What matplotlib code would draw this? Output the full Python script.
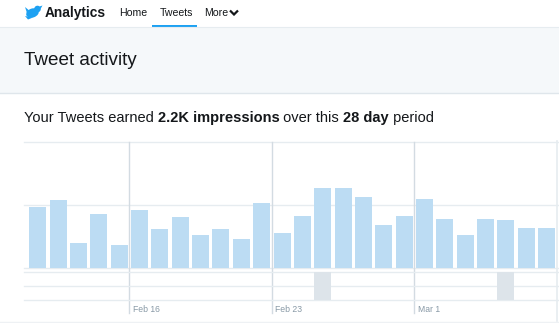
import matplotlib
matplotlib.use("Agg")
import matplotlib.pyplot as plt
import matplotlib.transforms as mtrans
from matplotlib.patches import Rectangle, Polygon, Ellipse, Circle

plt.rcParams['font.family'] = ['Liberation Sans', 'DejaVu Sans']

# impressions per day, Feb 11 .. Mar 8
days = list(range(26))
impressions = [97, 108, 39, 85, 36, 91, 61, 80, 52, 62, 45, 102, 55,
               82, 126, 127, 112, 67, 82, 109, 77, 52, 77, 76, 63, 63]
# tweets posted per day (only two days had a tweet)
tweets = [0] * 26
tweets[14] = 1
tweets[23] = 1
date_ticks = [4.5, 11.5, 18.5]
date_labels = ['Feb 16', 'Feb 23', 'Mar 1']

W, H = 559, 323


def rect(left, top, right, bottom):
    return [left / W, 1 - bottom / H, (right - left) / W, (bottom - top) / H]


fig = plt.figure(figsize=(W / 100, H / 100), dpi=100)

# page background / header, pixel coords
bg = fig.add_axes([0, 0, 1, 1])
bg.set_xlim(0, W)
bg.set_ylim(H, 0)
bg.axis('off')

bg.add_patch(Rectangle((0, 27.5), W, 65.5, color='#f5f8fa', lw=0))
bg.plot([0, W], [27.3, 27.3], color='#e6ecf0', lw=0.8)
bg.plot([0, W], [93, 93], color='#dfe6eb', lw=1.0)
bg.add_patch(Rectangle((152, 25), 45, 2.4, color='#1da1f2', lw=0))

# bird logo
blue = '#1da1f2'
bg.add_patch(Ellipse((32.5, 13), 13, 9, angle=-20, color=blue, lw=0))
bg.add_patch(Circle((37.5, 9), 3.3, color=blue, lw=0))
bg.add_patch(Polygon([[39.5, 6.5], [42.5, 5.5], [40.5, 9]], color=blue, lw=0))
bg.add_patch(Polygon([[25, 7], [31, 12], [27, 13]], color=blue, lw=0))
bg.add_patch(Polygon([[25, 16], [33, 17.5], [28, 19.5]], color=blue, lw=0))

dark = '#14171a'
bg.text(45, 16.5, 'Analytics', fontsize=9.9, fontweight='bold', color=dark, va='baseline')
bg.text(119, 16, 'Home', fontsize=7.6, color=dark, va='baseline')
bg.text(159.5, 16, 'Tweets', fontsize=7.6, color=dark, va='baseline')
bg.text(204, 16, 'More', fontsize=7.6, color=dark, va='baseline')
bg.plot([230, 234, 238], [10.5, 14.5, 10.5], color=dark, lw=1.6,
        solid_capstyle='butt', solid_joinstyle='miter')

bg.text(23.5, 65, 'Tweet activity', fontsize=13.6, color=dark, va='baseline')

# headline, laid out piece by piece (mixed weights)
fig.canvas.draw()
r = fig.canvas.get_renderer()
parts = [('Your Tweets earned ', 'normal'), ('2.2K impressions', 'bold'),
         (' over this ', 'normal'), ('28 day', 'bold'), (' period', 'normal')]
x = 23.5
for s, w in parts:
    tx = bg.text(x, 121.7, s, fontsize=10.5, color=dark, fontweight=w, va='baseline')
    x += tx.get_window_extent(renderer=r).width

# chart frame lines
bg.plot([557, 557], [141, 321], color='#e6ecf0', lw=1.2)
bg.plot([0, W], [321.5, 321.5], color='#eef1f4', lw=1.0)

xl = (-0.672, 25.605)

# impressions chart
ax = fig.add_axes(rect(24, 141.7, 559, 267.7))
ax.patch.set_alpha(0)
ax.bar(days, impressions, width=0.835, color='#bcdcf3', zorder=3)
ax.set_xlim(*xl)
ax.set_ylim(0, 200)
for yv in [0, 100, 200]:
    ax.axhline(yv, color='#e6ecf0', lw=1.0, zorder=1, clip_on=False)
for xv in date_ticks:
    ax.axvline(xv, ymin=-0.36, ymax=1, color='#d3dbe2', lw=1.0, zorder=2, clip_on=False)
for s in ax.spines.values():
    s.set_visible(False)
ax.set_xticks([])
ax.set_yticks([])

# tweets strip
ax2 = fig.add_axes(rect(24, 271.5, 559, 299.5))
ax2.patch.set_alpha(0)
ax2.bar(days, tweets, width=0.835, color='#dde4ea', zorder=3)
ax2.set_xlim(*xl)
ax2.set_ylim(1, 0)
for yv in [0, 0.5, 1]:
    ax2.axhline(yv, color='#e6ecf0', lw=1.0, zorder=1, clip_on=False)
for s in ax2.spines.values():
    s.set_visible(False)
ax2.set_xticks(date_ticks)
ax2.set_xticklabels(date_labels, fontsize=6.2, color='#8899a6', ha='left')
ax2.tick_params(axis='x', length=0, pad=4)
off = mtrans.ScaledTranslation(3.5 / 100, 0, fig.dpi_scale_trans)
for lab in ax2.get_xticklabels():
    lab.set_transform(lab.get_transform() + off)
ax2.set_yticks([])

fig.savefig('out.png', dpi=100)
